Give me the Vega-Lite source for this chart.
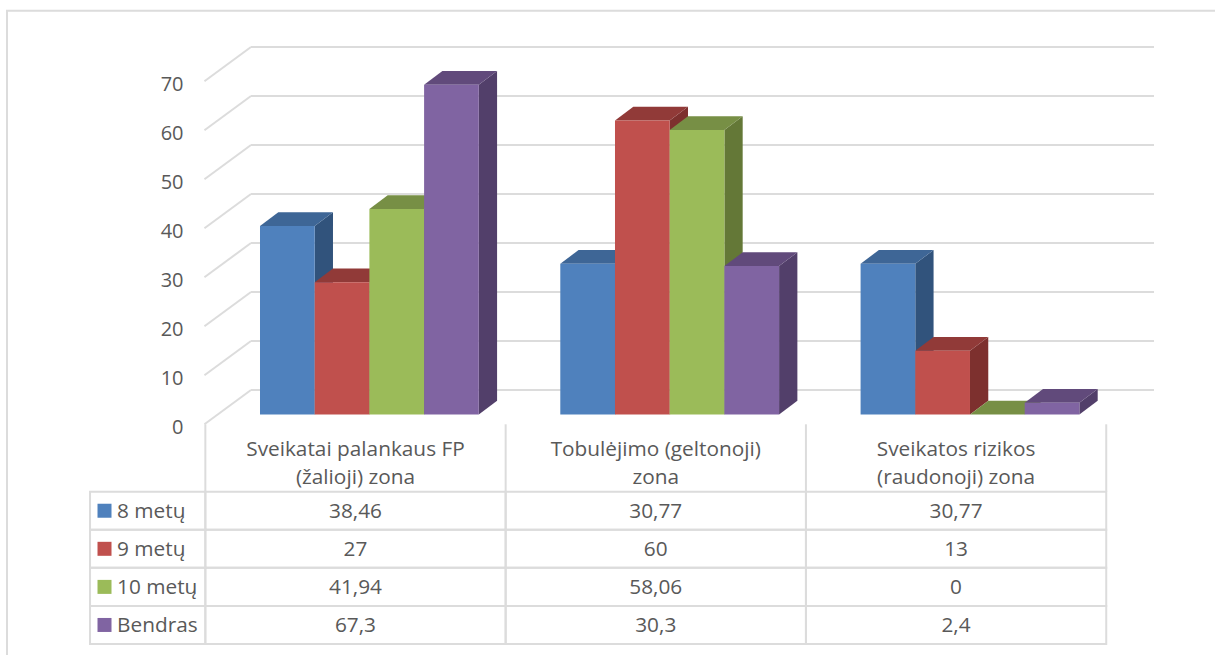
{
"$schema":"https://vega.github.io/schema/vega-lite/v6.json",
"width":1215,"height":655,"autosize":{"type":"none"},"padding":0,"background":"white",
"config":{"view":{"stroke":null},"text":{"font":"Open Sans","fontSize":20.8,"color":"#595959"}},
"datasets":{
"bars":[
{"zone":"Sveikatai palankaus FP\n(žalioji) zona","series":"8 metų","value":38.46},
{"zone":"Sveikatai palankaus FP\n(žalioji) zona","series":"9 metų","value":27},
{"zone":"Sveikatai palankaus FP\n(žalioji) zona","series":"10 metų","value":41.94},
{"zone":"Sveikatai palankaus FP\n(žalioji) zona","series":"Bendras","value":67.3},
{"zone":"Tobulėjimo (geltonoji)\nzona","series":"8 metų","value":30.77},
{"zone":"Tobulėjimo (geltonoji)\nzona","series":"9 metų","value":60},
{"zone":"Tobulėjimo (geltonoji)\nzona","series":"10 metų","value":58.06},
{"zone":"Tobulėjimo (geltonoji)\nzona","series":"Bendras","value":30.3},
{"zone":"Sveikatos rizikos\n(raudonoji) zona","series":"8 metų","value":30.77},
{"zone":"Sveikatos rizikos\n(raudonoji) zona","series":"9 metų","value":13},
{"zone":"Sveikatos rizikos\n(raudonoji) zona","series":"10 metų","value":0},
{"zone":"Sveikatos rizikos\n(raudonoji) zona","series":"Bendras","value":2.4}
],
"ticks":[{"t":0},{"t":10},{"t":20},{"t":30},{"t":40},{"t":50},{"t":60},{"t":70}]
},
"resolve":{"scale":{"y":"independent","color":"independent"}},
"layer":[
{
"resolve":{"scale":{"color":"independent"}},
"layer":[
{"data":{"values":[{"frame":1}]},
 "transform":[{"calculate":"-0.8425","as":"xa"},{"calculate":"3.3","as":"xb"},{"calculate":"82.4","as":"ya"},{"calculate":"-60","as":"yb"}],
 "mark":{"type":"rect","fill":null,"stroke":"#dcdcdc","strokeWidth":2},
 "encoding":{
  "x":{"field":"xa","type":"quantitative","scale":{"domain":[-0.8658,3.1802],"range":[0,1215],"nice":false,"zero":false},"axis":null},
  "x2":{"field":"xb"},
  "y":{"field":"ya","type":"quantitative","scale":{"domain":[-49.08,84.59],"range":[655,0],"nice":false,"zero":false},"axis":null},
  "y2":{"field":"yb"}}},
{"data":{"name":"ticks"},
 "transform":[{"calculate":"datum.t+5","as":"back"}],
 "mark":{"type":"rule","stroke":"#dcdcdc","strokeWidth":2},
 "encoding":{"x":{"datum":-0.03,"type":"quantitative"},"x2":{"datum":2.977},"y":{"field":"back","type":"quantitative"}}},
{"data":{"name":"ticks"},
 "transform":[{"calculate":"datum.t+5","as":"back"},{"calculate":"datum.t-2","as":"front"}],
 "mark":{"type":"rule","stroke":"#dcdcdc","strokeWidth":2},
 "encoding":{"x":{"datum":-0.03,"type":"quantitative"},"x2":{"datum":-0.185},"y":{"field":"back","type":"quantitative"},"y2":{"field":"front"}}},
{"data":{"name":"bars"},
 "transform":[
  {"calculate":"indexof(['Sveikatai palankaus FP\\n(žalioji) zona','Tobulėjimo (geltonoji)\\nzona','Sveikatos rizikos\\n(raudonoji) zona'],datum.zone)","as":"z"},
  {"calculate":"indexof(['8 metų','9 metų','10 metų','Bendras'],datum.series)","as":"s"},
  {"calculate":"[0,1]","as":"t"},{"flatten":["t"]},
  {"calculate":"datum.z+(datum.s+1)*0.18215+datum.t*0.0609","as":"xs"},
  {"calculate":"datum.value+datum.t*2.796","as":"ytop"},
  {"calculate":"datum.t*2.796","as":"ybot"}],
 "mark":{"type":"area","orient":"vertical","opacity":1,"interpolate":"linear"},
 "encoding":{"x":{"field":"xs","type":"quantitative"},"y":{"field":"ytop","type":"quantitative"},"y2":{"field":"ybot"},
  "detail":{"field":"zone"},
  "color":{"field":"series","type":"nominal","legend":null,"scale":{"domain":["8 metų","9 metų","10 metų","Bendras"],"range":["#31537C","#7D302E","#647837","#523F6A"]}}}},
{"data":{"name":"bars"},
 "transform":[
  {"calculate":"indexof(['Sveikatai palankaus FP\\n(žalioji) zona','Tobulėjimo (geltonoji)\\nzona','Sveikatos rizikos\\n(raudonoji) zona'],datum.zone)","as":"z"},
  {"calculate":"indexof(['8 metų','9 metų','10 metų','Bendras'],datum.series)","as":"s"},
  {"calculate":"datum.z+datum.s*0.18215","as":"x0"}],
 "mark":{"type":"point","filled":true,"opacity":1,"size":4,"shape":"M0,0 L54.7,0 L73,-13.7 L18.3,-13.7 Z"},
 "encoding":{"x":{"field":"x0","type":"quantitative"},"y":{"field":"value","type":"quantitative"},
  "order":{"field":"s","type":"quantitative"},
  "color":{"field":"series","type":"nominal","legend":null,"scale":{"domain":["8 metų","9 metų","10 metų","Bendras"],"range":["#3E6696","#913A38","#778F45","#614A7B"]}}}},
{"data":{"name":"bars"},
 "transform":[
  {"calculate":"indexof(['Sveikatai palankaus FP\\n(žalioji) zona','Tobulėjimo (geltonoji)\\nzona','Sveikatos rizikos\\n(raudonoji) zona'],datum.zone)","as":"z"},
  {"calculate":"indexof(['8 metų','9 metų','10 metų','Bendras'],datum.series)","as":"s"},
  {"calculate":"datum.z+datum.s*0.18215","as":"x0"},
  {"calculate":"datum.x0+0.18215","as":"x1"}],
 "mark":{"type":"rect"},
 "encoding":{"x":{"field":"x0","type":"quantitative"},"x2":{"field":"x1"},"y":{"field":"value","type":"quantitative"},"y2":{"datum":0},
  "color":{"field":"series","type":"nominal","legend":null,"scale":{"domain":["8 metų","9 metų","10 metų","Bendras"],"range":["#4F81BD","#C0504D","#9BBB59","#8064A2"]}}}},
{"data":{"name":"bars"},
 "transform":[
  {"filter":"datum.series==='8 metų'"},
  {"calculate":"indexof(['Sveikatai palankaus FP\\n(žalioji) zona','Tobulėjimo (geltonoji)\\nzona','Sveikatos rizikos\\n(raudonoji) zona'],datum.zone)+0.3179","as":"xc"}],
 "mark":{"type":"text","lineBreak":"\n","lineHeight":28,"baseline":"middle","align":"center"},
 "encoding":{"x":{"field":"xc","type":"quantitative"},"y":{"datum":-7.24,"type":"quantitative"},"text":{"field":"zone"}}},
{"data":{"values":[{"k":0},{"k":1},{"k":2},{"k":3}]},
 "transform":[{"calculate":"datum.k-0.182","as":"xk"}],
 "mark":{"type":"rule","stroke":"#dcdcdc","strokeWidth":2},
 "encoding":{"x":{"field":"xk","type":"quantitative"},"y":{"datum":-2,"type":"quantitative"},"y2":{"datum":-15.76}}}
]},
{
"data":{"name":"ticks"},
"mark":{"type":"rule","opacity":0},
"encoding":{"y":{"field":"t","type":"quantitative","scale":{"domain":[0,70],"range":[427.8,84.8],"nice":false},
 "axis":{"orient":"left","offset":-183,"values":[0,10,20,30,40,50,60,70],"domain":false,"ticks":false,"grid":false,"title":null,"labelPadding":0,"labelFont":"Open Sans","labelFontSize":20,"labelColor":"#595959"}}}
},
{
"data":{"name":"bars"},
"transform":[
 {"calculate":"indexof(['Sveikatai palankaus FP\\n(žalioji) zona','Tobulėjimo (geltonoji)\\nzona','Sveikatos rizikos\\n(raudonoji) zona'],datum.zone)","as":"z"}],
"layer":[
{"transform":[{"calculate":"datum.z-0.182","as":"xa"},{"calculate":"datum.xa+1","as":"xb"}],
 "mark":{"type":"rect","fill":null,"stroke":"#dcdcdc","strokeWidth":2},
 "encoding":{"x":{"field":"xa","type":"quantitative"},"x2":{"field":"xb"},
  "y":{"field":"series","type":"nominal","sort":null,"axis":null,"scale":{"type":"band","domain":["8 metų","9 metų","10 metų","Bendras"],"range":[491.7,644],"paddingInner":0,"paddingOuter":0}}}},
{"transform":[{"filter":"datum.z===0"}],
 "mark":{"type":"rect","fill":null,"stroke":"#dcdcdc","strokeWidth":2},
 "encoding":{"x":{"datum":-0.566,"type":"quantitative"},"x2":{"datum":-0.182},"y":{"field":"series","type":"nominal"}}},
{"transform":[{"calculate":"datum.z+0.3179","as":"xc"},{"calculate":"replace(datum.value+'','.',',')","as":"label"}],
 "mark":{"type":"text","baseline":"middle","align":"center","dy":1.5},
 "encoding":{"x":{"field":"xc","type":"quantitative"},"y":{"field":"series","type":"nominal"},"text":{"field":"label"}}},
{"transform":[{"filter":"datum.z===0"}],
 "mark":{"type":"text","baseline":"middle","align":"left","dy":1.5},
 "encoding":{"x":{"datum":-0.476,"type":"quantitative"},"y":{"field":"series","type":"nominal"},"text":{"field":"series"}}},
{"transform":[{"filter":"datum.z===0"}],
 "mark":{"type":"point","shape":"square","filled":true,"opacity":1,"size":196},
 "encoding":{"x":{"datum":-0.5178,"type":"quantitative"},"y":{"field":"series","type":"nominal"},
  "color":{"field":"series","type":"nominal","legend":null,"scale":{"domain":["8 metų","9 metų","10 metų","Bendras"],"range":["#4F81BD","#C0504D","#9BBB59","#8064A2"]}}}}
]}
]}
